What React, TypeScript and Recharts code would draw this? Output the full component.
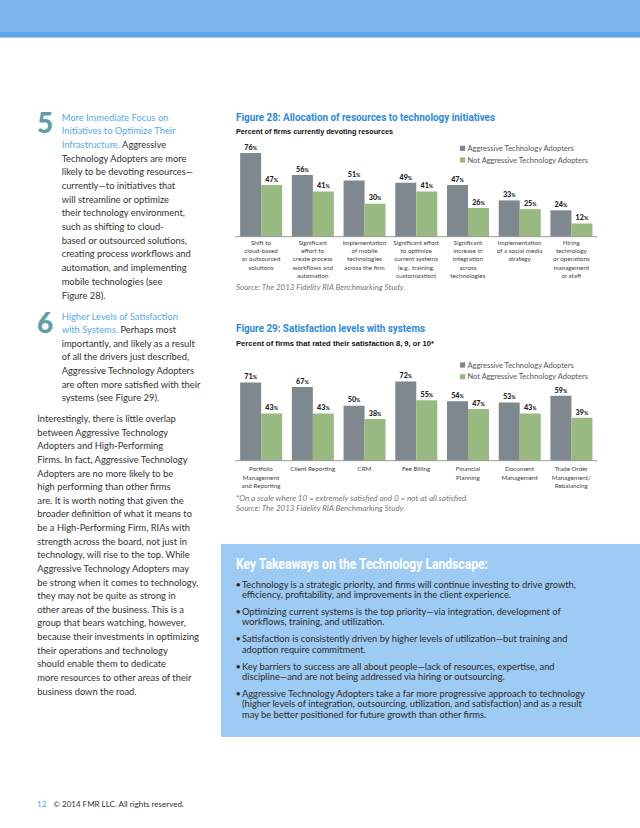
import React from "react";
import { BarChart, Bar, XAxis, YAxis, LabelList } from "recharts";

// ---------- chart data ----------
const seriesNames = ["Aggressive Technology Adopters", "Not Aggressive Technology Adopters"];

const categories28 = [
  "Shift to\ncloud-based\nor outsourced\nsolutions",
  "Significant\neffort to\ncreate process\nworkflows and\nautomation",
  "Implementation\nof mobile\ntechnologies\nacross the firm",
  "Significant effort\nto optimize\ncurrent systems\n(e.g., training,\ncustomization)",
  "Significant\nincrease in\nintegration\nacross\ntechnologies",
  "Implementation\nof a social media\nstrategy",
  "Hiring\ntechnology\nor operations\nmanagement\nor staff",
];
const aggressive28 = [76, 56, 51, 49, 47, 33, 24];
const notAggressive28 = [47, 41, 30, 41, 26, 25, 12];

const categories29 = [
  "Portfolio\nManagement\nand Reporting",
  "Client Reporting",
  "CRM",
  "Fee Billing",
  "Financial\nPlanning",
  "Document\nManagement",
  "Trade Order\nManagement/\nRebalancing",
];
const aggressive29 = [71, 67, 50, 72, 54, 53, 59];
const notAggressive29 = [43, 43, 38, 55, 47, 43, 39];

// ---------- styles ----------
const GRAY = "#7f878f";
const GREEN = "#98ba80";
const BODY = "Lato, 'Open Sans', sans-serif";
const BLUE_HEAD = "#56aaec";

const makeTick = (firstDy: number) => (props: any) => {
  const { x, y, payload } = props;
  const lines = String(payload.value).split("\n");
  return (
    <g>
      {lines.map((l, i) => (
        <text key={i} x={x} y={y + firstDy + i * 8.3} textAnchor="middle"
          fontFamily={BODY} fontSize={6.3} fill="#444">{l}</text>
      ))}
    </g>
  );
};

const valueLabel = (props: any) => {
  const { x, y, width, value } = props;
  return (
    <text x={x + width / 2} y={y - 3.3} textAnchor="middle" fontFamily={BODY}
      fontWeight={900} fontSize={7.2} fill="#222">
      {value}<tspan fontSize={5.2}>%</tspan>
    </text>
  );
};

function Fig({ cats, a, n, top, tickDy }: any) {
  const data = cats.map((c: string, i: number) => ({ name: c, a: a[i], n: n[i] }));
  return (
    <div style={{ position: "absolute", left: 220, top, width: 400, height: 200 }}>
      <BarChart width={400} height={200} data={data} barGap={0}
        margin={{ top: 26.7, right: 22.85, left: 15.15, bottom: 3.3 }}>
        <YAxis hide domain={[0, 100]} />
        <XAxis dataKey="name" interval={0} height={60} tickLine={false} tickSize={0} tickMargin={0}
          axisLine={{ stroke: "#9a9a9a", strokeWidth: 1 }} tick={makeTick(tickDy)} />
        <Bar dataKey="a" name={seriesNames[0]} fill={GRAY} barSize={21} isAnimationActive={false}>
          <LabelList dataKey="a" content={valueLabel} />
        </Bar>
        <Bar dataKey="n" name={seriesNames[1]} fill={GREEN} barSize={21} isAnimationActive={false}>
          <LabelList dataKey="n" content={valueLabel} />
        </Bar>
      </BarChart>
    </div>
  );
}

// ---------- page text ----------
type Seg = [string, boolean]; // text, isBlue
const para5: Seg[][] = [
  [["More Immediate Focus on", true]],
  [["Initiatives to Optimize Their", true]],
  [["Infrastructure.", true], [" Aggressive", false]],
  [["Technology Adopters are more", false]],
  [["likely to be devoting resources\u2014", false]],
  [["currently\u2014to initiatives that", false]],
  [["will streamline or optimize", false]],
  [["their technology environment,", false]],
  [["such as shifting to cloud-", false]],
  [["based or outsourced solutions,", false]],
  [["creating process workflows and", false]],
  [["automation, and implementing", false]],
  [["mobile technologies (see", false]],
  [["Figure 28).", false]],
];
const para6: Seg[][] = [
  [["Higher Levels of Satisfaction", true]],
  [["with Systems.", true], [" Perhaps most", false]],
  [["importantly, and likely as a result", false]],
  [["of all the drivers just described,", false]],
  [["Aggressive Technology Adopters", false]],
  [["are often more satisfied with their", false]],
  [["systems (see Figure 29).", false]],
];
const para7 = [
  "Interestingly, there is little overlap",
  "between Aggressive Technology",
  "Adopters and High-Performing",
  "Firms. In fact, Aggressive Technology",
  "Adopters are no more likely to be",
  "high performing than other firms",
  "are. It is worth noting that given the",
  "broader definition of what it means to",
  "be a High-Performing Firm, RIAs with",
  "strength across the board, not just in",
  "technology, will rise to the top. While",
  "Aggressive Technology Adopters may",
  "be strong when it comes to technology,",
  "they may not be quite as strong in",
  "other areas of the business. This is a",
  "group that bears watching, however,",
  "because their investments in optimizing",
  "their operations and technology",
  "should enable them to dedicate",
  "more resources to other areas of their",
  "business down the road.",
];
const bullets = [
  ["Technology is a strategic priority, and firms will continue investing to drive growth,",
   "efficiency, profitability, and improvements in the client experience."],
  ["Optimizing current systems is the top priority\u2014via integration, development of",
   "workflows, training, and utilization."],
  ["Satisfaction is consistently driven by higher levels of utilization\u2014but training and",
   "adoption require commitment."],
  ["Key barriers to success are all about people\u2014lack of resources, expertise, and",
   "discipline\u2014and are not being addressed via hiring or outsourcing."],
  ["Aggressive Technology Adopters take a far more progressive approach to technology",
   "(higher levels of integration, outsourcing, utilization, and satisfaction) and as a result",
   "may be better positioned for future growth than other firms."],
];
const bulletTops = [585, 611.7, 639.3, 666.7, 694];

const BFS = 9.35;
const KFS = 9.3;
function SegLines({ lines, x, y0, step }: { lines: Seg[][]; x: number; y0: number; step: number }) {
  return (
    <>
      {lines.map((segs, i) => (
        <text key={i} x={x} y={y0 + i * step + BFS * 0.32} fontFamily={BODY} fontSize={BFS} fill="#333" style={{ whiteSpace: "pre" }}>
          {segs.map(([t, b], j) => (
            <tspan key={j} fill={b ? BLUE_HEAD : "#333"}>{t}</tspan>
          ))}
        </text>
      ))}
    </>
  );
}

function Legend({ y }: { y: number }) {
  const cols = [GRAY, GREEN];
  return (
    <>
      {seriesNames.map((s, i) => (
        <g key={i}>
          <rect x={460} y={y + i * 11.7 - 2.6} width={5.2} height={5.2} fill={cols[i]} />
          <text x={467.5} y={y + i * 11.7 + 2.5} fontFamily={BODY} fontSize={7.5} fill="#555">{s}</text>
        </g>
      ))}
    </>
  );
}

export default function App() {
  return (
    <div style={{ position: "absolute", left: 0, top: 0, width: 640, height: 828, background: "#fff", overflow: "hidden" }}>
      <div style={{ position: "absolute", left: 0, top: 0, width: 640, height: 32, background: "#7bb5eb" }} />
      <div style={{ position: "absolute", left: 0, top: 32, width: 640, height: 4.5, background: "#5da7e6" }} />
      <div style={{ position: "absolute", left: 0, top: 36.5, width: 640, height: 1.5, background: "#a5cff2" }} />
      <div style={{ position: "absolute", left: 221, top: 544, width: 419, height: 193, background: "#9ecbf3" }} />

      <Fig cats={categories28} a={aggressive28} n={notAggressive28} top={100} tickDy={8} />
      <Fig cats={categories29} a={aggressive29} n={notAggressive29} top={324} tickDy={10.5} />

      <svg width={640} height={828} style={{ position: "absolute", left: 0, top: 0, pointerEvents: "none" }}>
        {/* big numbers */}
        <text x={37} y={133} fontFamily={BODY} fontWeight={900} fontSize={28} fill="#5e9fa9">5</text>
        <text x={37} y={333} fontFamily={BODY} fontWeight={900} fontSize={28} fill="#5e9fa9">6</text>

        <SegLines lines={para5} x={61.7} y0={117.7} step={13.68} />
        <SegLines lines={para6} x={61.7} y0={316.7} step={13.6} />
        <SegLines lines={para7.map((t) => [[t, false] as Seg])} x={37.3} y0={419} step={13.63} />

        {/* figure 28 headings */}
        <text x={236} y={121.2} fontFamily="Roboto, sans-serif" fontWeight={700} fontSize={11.5} fill="#2d8ade"
          textLength={259} lengthAdjust="spacingAndGlyphs">Figure 28: Allocation of resources to technology initiatives</text>
        <text x={236} y={134.4} fontFamily="'Liberation Sans', Arial, sans-serif" fontWeight={700} fontSize={7.6} fill="#111"
          textLength={157} lengthAdjust="spacingAndGlyphs">Percent of firms currently devoting resources</text>
        <Legend y={148.3} />
        <text x={236} y={290.2} fontFamily={BODY} fontStyle="italic" fontSize={7} fill="#777"
          textLength={169} lengthAdjust="spacingAndGlyphs">Source: The 2013 Fidelity RIA Benchmarking Study.</text>

        {/* figure 29 headings */}
        <text x={236} y={332.2} fontFamily="Roboto, sans-serif" fontWeight={700} fontSize={11.5} fill="#2d8ade"
          textLength={189} lengthAdjust="spacingAndGlyphs">Figure 29: Satisfaction levels with systems</text>
        <text x={236} y={346} fontFamily="'Liberation Sans', Arial, sans-serif" fontWeight={700} fontSize={7.6} fill="#111"
          textLength={198} lengthAdjust="spacingAndGlyphs">Percent of firms that rated their satisfaction 8, 9, or 10*</text>
        <Legend y={365} />
        <text x={236} y={500.6} fontFamily={BODY} fontStyle="italic" fontSize={7} fill="#777"
          textLength={232} lengthAdjust="spacingAndGlyphs">*On a scale where 10 = extremely satisfied and 0 = not at all satisfied.</text>
        <text x={236} y={510.6} fontFamily={BODY} fontStyle="italic" fontSize={7} fill="#777"
          textLength={169} lengthAdjust="spacingAndGlyphs">Source: The 2013 Fidelity RIA Benchmarking Study.</text>

        {/* key takeaways */}
        <text x={236} y={569} fontFamily="Roboto, sans-serif" fontWeight={700} fontSize={14.5} fill="#fff"
          textLength={252} lengthAdjust="spacingAndGlyphs">Key Takeaways on the Technology Landscape:</text>
        {bullets.map((lines, i) => (
          <g key={i}>
            <text x={235.5} y={bulletTops[i] + 3} fontFamily={BODY} fontSize={KFS} fill="#2a2a2a">{"\u2022"}</text>
            {lines.map((l, j) => (
              <text key={j} x={242} y={bulletTops[i] + j * 10.3 + 3} fontFamily={BODY} fontSize={KFS} fill="#2a2a2a">{l}</text>
            ))}
          </g>
        ))}

        {/* footer */}
        <text x={37} y={806.8} fontFamily={BODY} fontSize={8} fill="#4da6ec">12</text>
        <text x={53.3} y={806.8} fontFamily={BODY} fontSize={8} fill="#333">{"\u00a9 2014 FMR LLC. All rights reserved."}</text>
      </svg>
    </div>
  );
}
